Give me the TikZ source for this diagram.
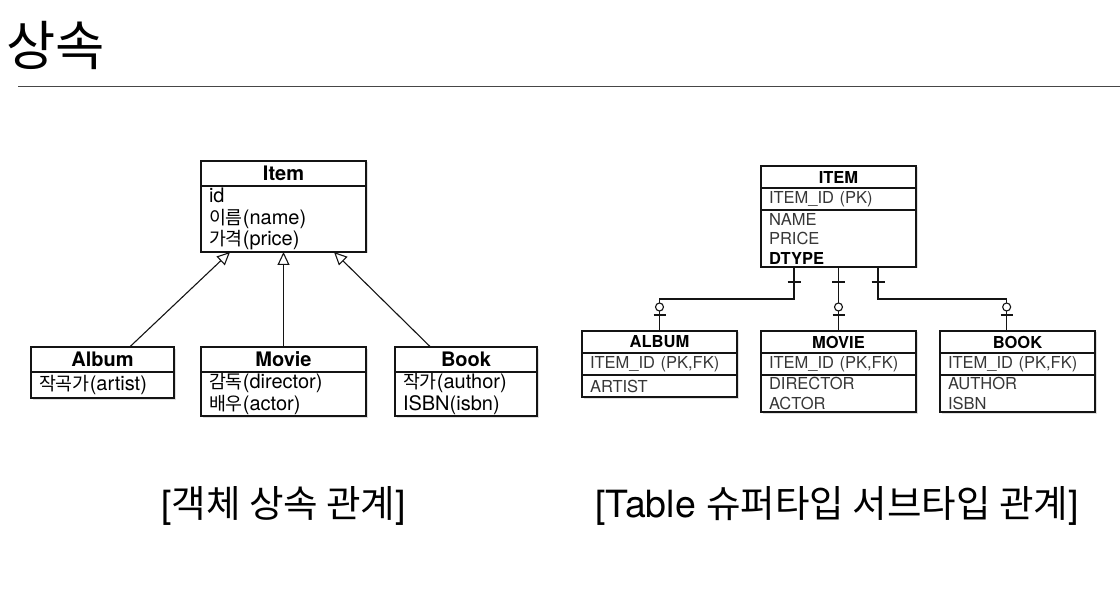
\documentclass[tikz,border=0pt]{standalone}
\usepackage{fontspec}
\setmainfont{TeX Gyre Heros}
\newfontfamily\kr{Noto Sans CJK KR}
\newfontfamily\krsm[Scale=0.92]{Noto Sans CJK KR}
\usetikzlibrary{arrows.meta,positioning,calc,shadows}
\definecolor{boxedge}{RGB}{20,20,20}
\definecolor{coltext}{RGB}{55,55,55}
\definecolor{rulegray}{RGB}{70,70,70}
\tikzset{
  part/.style={
    draw=boxedge, line width=1.3pt, fill=white, inner sep=0pt, outer sep=0pt,
    drop shadow={opacity=.25, shadow xshift=1.5pt, shadow yshift=-1.5pt}
  },
  clshead/.style={part, minimum width=#1, minimum height=25pt,
    font=\fontsize{20}{22}\selectfont\bfseries},
  clsbody/.style={part, text width=#1, inner xsep=8pt, align=left,
    font=\fontsize{20}{21.5}\selectfont},
  tblhead/.style={part, minimum width=155pt, minimum height=22pt,
    font=\fontsize{16.5}{18}\selectfont\bfseries},
  tblrow/.style={part, text width=139pt, inner xsep=8pt, align=left, text=coltext,
    font=\fontsize{16.5}{19.5}\selectfont},
  gen/.style={-{Triangle[open, length=13pt, width=12pt]}, draw=boxedge, line width=1.1pt},
  rel/.style={draw=boxedge, line width=1.1pt},
  caption/.style={font=\fontsize{37.5}{42}\selectfont, anchor=base, inner sep=0pt}
}

\begin{document}
\begin{tikzpicture}[x=1pt, y=-1pt]
  \useasboundingbox (0,0) rectangle (1120,596);
  \node[font=\kr\fontsize{53.5}{58}\selectfont, anchor=base west, inner sep=0pt] (title) at (6,66) {상속};
  \draw[rulegray, line width=1pt] (18,87) -- (1120,87);

  % object inheritance
  \node[clshead=165pt, anchor=north] (item) at (283.5,161) {Item};
  \node[clsbody=149pt, minimum height=66pt, below=0pt of item] (itemattr)
    {id\\{\krsm 이름}(name)\\{\krsm 가격}(price)};
  \node[clshead=143pt, anchor=north] (album) at (102.5,347) {Album};
  \node[clsbody=127pt, minimum height=26pt, below=0pt of album] (albumattr)
    {{\krsm 작곡가}(artist)};
  \node[clshead=165pt, anchor=north] (movie) at (283.5,347) {Movie};
  \node[clsbody=149pt, minimum height=44pt, below=0pt of movie] (movieattr)
    {{\krsm 감독}(director)\\{\krsm 배우}(actor)};
  \node[clshead=142pt, anchor=north] (book) at (466,347) {Book};
  \node[clsbody=126pt, minimum height=44pt, below=0pt of book] (bookattr)
    {{\krsm 작가}(author)\\ISBN(isbn)};
  \draw[gen] ($(album.north west)!0.69!(album.north east)$)
    -- ($(itemattr.south west)!0.176!(itemattr.south east)$);
  \draw[gen] (movie.north) -- (itemattr.south);
  \draw[gen] ($(book.north west)!0.25!(book.north east)$)
    -- ($(itemattr.south west)!0.806!(itemattr.south east)$);

  % tables
  \node[tblhead, anchor=north] (itemtb) at (838.5,166) {ITEM};
  \node[tblrow, minimum height=22pt, below=0pt of itemtb] (itempk) {ITEM\_ID (PK)};
  \node[tblrow, minimum height=57pt, below=0pt of itempk] (itemcols)
    {NAME\\PRICE\\{\color{black}\bfseries DTYPE}};
  \node[tblhead, anchor=north] (albumtb) at (659.5,331) {ALBUM};
  \node[tblrow, minimum height=22pt, below=0pt of albumtb] (albumpk) {ITEM\_ID (PK,FK)};
  \node[tblrow, minimum height=22pt, below=0pt of albumpk] (albumcols) {ARTIST};
  \node[tblhead, anchor=north] (movietb) at (838.5,331) {MOVIE};
  \node[tblrow, minimum height=22pt, below=0pt of movietb] (moviepk) {ITEM\_ID (PK,FK)};
  \node[tblrow, minimum height=37pt, below=0pt of moviepk] (moviecols) {DIRECTOR\\ACTOR};
  \node[tblhead, anchor=north] (booktb) at (1017.5,331) {BOOK};
  \node[tblrow, minimum height=22pt, below=0pt of booktb] (bookpk) {ITEM\_ID (PK,FK)};
  \node[tblrow, minimum height=37pt, below=0pt of bookpk] (bookcols) {AUTHOR\\ISBN};

  \coordinate (ja) at ($(itemcols.south west)!0.213!(itemcols.south east)$);
  \coordinate (jm) at (itemcols.south);
  \coordinate (jb) at ($(itemcols.south west)!0.755!(itemcols.south east)$);
  \coordinate (ka) at (albumtb.north);
  \coordinate (km) at (movietb.north);
  \coordinate (kb) at ($(booktb.north west)!0.43!(booktb.north east)$);
  \draw[rel] (ja) -- ++(0,32) -| (ka);
  \draw[rel] (jm) -- (km);
  \draw[rel] (jb) -- ++(0,32) -| (kb);
  \foreach \c in {ja,jm,jb}
    \draw[rel] ($(\c)+(-6.5,15)$) -- ++(13,0);
  \foreach \c in {ka,km,kb} {
    \draw[rel] ($(\c)+(-6,-16)$) -- ++(12,0);
    \draw[rel, fill=white] ($(\c)+(0,-24)$) circle (4);
  }

  \node[caption] (objcap) at (283.5,517) {[{\kr 객체 상속 관계}]};
  \node[caption] (tblcap) at (837,517) {[Table {\kr 슈퍼타입 서브타입 관계}]};
\end{tikzpicture}
\end{document}
